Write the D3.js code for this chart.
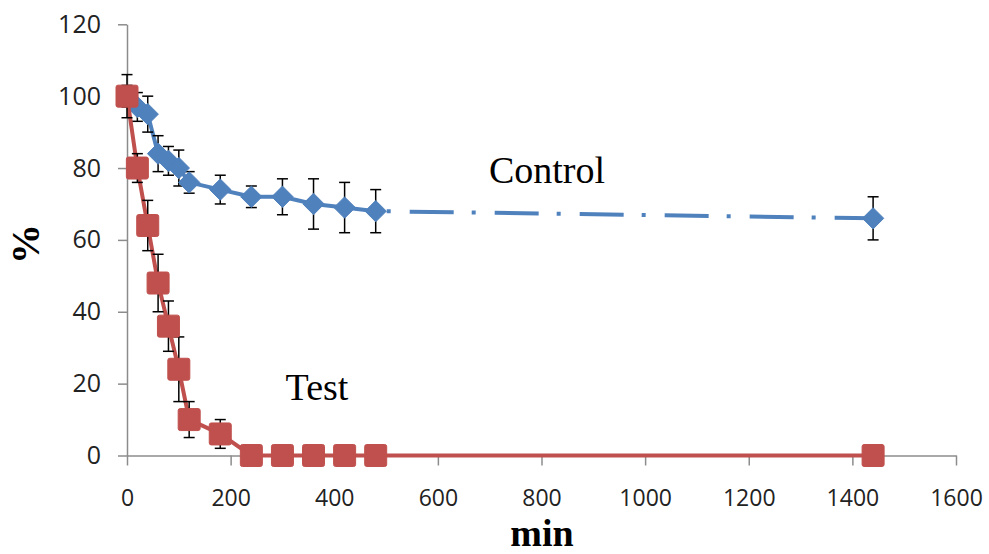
<!DOCTYPE html>
<html>
<head>
<meta charset="utf-8">
<script src="https://cdn.jsdelivr.net/npm/d3@7"></script>
<style>
  html, body { margin: 0; padding: 0; background: #fff; }
  svg { display: block; }
</style>
</head>
<body>
<svg id="chart" width="989" height="554"></svg>
<script>
// Sampling times (min)
const times = [0, 20, 40, 60, 80, 100, 120, 180, 240, 300, 360, 420, 480, 1440];

// Control series: mean % and error (±)
const controlValues = [100, 97, 95, 84, 82, 80, 76, 74, 72, 72, 70, 69, 68, 66];
const controlErrors = [3, 4, 5, 5, 4, 5, 3, 4, 3, 5, 7, 7, 6, 6];

// Test series: mean % and error (±)
const testValues = [100, 80, 64, 48, 36, 24, 10, 6, 0, 0, 0, 0, 0, 0];
const testErrors = [6, 4, 7, 8, 7, 9, 5, 4, 0, 0, 0, 0, 0, 0];

// Axis ticks
const xTicks = [0, 200, 400, 600, 800, 1000, 1200, 1400, 1600];
const yTicks = [0, 20, 40, 60, 80, 100, 120];

const svg = d3.select("#chart");

const x = d3.scaleLinear().domain([0, 1600]).range([127, 956]);
const y = d3.scaleLinear().domain([0, 120]).range([455.5, 24.3]);

const axisColor = "#8c8c8c";
const blue = "#4F81BD";
const red = "#C0504D";

// Axes
const xAxis = svg.append("g")
  .attr("transform", `translate(0,${y(0)})`)
  .call(d3.axisBottom(x).tickValues(xTicks).tickFormat(d3.format("d"))
    .tickSize(10).tickSizeOuter(0));
const yAxis = svg.append("g")
  .attr("transform", `translate(${x(0)},0)`)
  .call(d3.axisLeft(y).tickValues(yTicks).tickFormat(d3.format("d"))
    .tickSize(9).tickSizeOuter(0).tickPadding(17));

[xAxis, yAxis].forEach(g => {
  g.select(".domain").attr("stroke", axisColor).attr("stroke-width", 1.5);
  g.selectAll(".tick line").attr("stroke", axisColor).attr("stroke-width", 1.5);
  g.selectAll(".tick text")
    .attr("fill", "#222")
    .attr("font-family", "'Open Sans', sans-serif");
});
yAxis.selectAll(".tick text").attr("font-size", 25);
xAxis.selectAll(".tick text")
  .attr("font-size", 23)
  .attr("dy", "0.35em")
  .attr("y", 42);

// Axis titles
svg.append("text")
  .attr("x", 542).attr("y", 546)
  .attr("text-anchor", "middle")
  .attr("font-family", "'Liberation Serif', 'Times New Roman', serif")
  .attr("font-weight", "bold")
  .attr("font-size", 38)
  .attr("fill", "#000")
  .text("min");

svg.append("text")
  .attr("transform", "translate(39,244) rotate(-90)")
  .attr("text-anchor", "middle")
  .attr("font-family", "'Liberation Serif', 'Times New Roman', serif")
  .attr("font-weight", "bold")
  .attr("font-size", 40)
  .attr("fill", "#000")
  .text("%");

// Series labels
svg.append("text")
  .attr("x", 547).attr("y", 183)
  .attr("text-anchor", "middle")
  .attr("font-family", "'Liberation Serif', 'Times New Roman', serif")
  .attr("font-size", 38)
  .attr("fill", "#000")
  .text("Control");

svg.append("text")
  .attr("x", 317).attr("y", 400)
  .attr("text-anchor", "middle")
  .attr("font-family", "'Liberation Serif', 'Times New Roman', serif")
  .attr("font-size", 38)
  .attr("fill", "#000")
  .text("Test");

const control = times.map((t, i) => ({ t, v: controlValues[i], e: controlErrors[i] }));
const test = times.map((t, i) => ({ t, v: testValues[i], e: testErrors[i] }));

// Control line: dash-dot drawn per segment; long segments start on a gap
const dashPattern = "44,18,4,19";
const segs = d3.pairs(control);
svg.append("g").selectAll("line")
  .data(segs)
  .join("line")
  .attr("x1", d => x(d[0].t)).attr("y1", d => y(d[0].v))
  .attr("x2", d => x(d[1].t)).attr("y2", d => y(d[1].v))
  .attr("stroke", blue)
  .attr("stroke-width", 4)
  .attr("stroke-dasharray", dashPattern)
  .attr("stroke-dashoffset", d => {
    const len = Math.hypot(x(d[1].t) - x(d[0].t), y(d[1].v) - y(d[0].v));
    return len > 60 ? 51 : 0;
  });

function errorBars(data) {
  const g = svg.append("g").attr("stroke", "#000").attr("stroke-width", 1.5);
  const withErr = data.filter(d => d.e > 0);
  g.selectAll("line.v").data(withErr).join("line").attr("class", "v")
    .attr("x1", d => x(d.t)).attr("x2", d => x(d.t))
    .attr("y1", d => y(d.v + d.e)).attr("y2", d => y(d.v - d.e));
  g.selectAll("line.top").data(withErr).join("line").attr("class", "top")
    .attr("x1", d => x(d.t) - 5.5).attr("x2", d => x(d.t) + 5.5)
    .attr("y1", d => y(d.v + d.e)).attr("y2", d => y(d.v + d.e));
  g.selectAll("line.bot").data(withErr).join("line").attr("class", "bot")
    .attr("x1", d => x(d.t) - 5.5).attr("x2", d => x(d.t) + 5.5)
    .attr("y1", d => y(d.v - d.e)).attr("y2", d => y(d.v - d.e));
}

errorBars(control);

// Control markers (diamonds)
const diamond = d3.symbol().type(d3.symbolDiamond2).size(290);
svg.append("g").selectAll("path")
  .data(control)
  .join("path")
  .attr("d", diamond)
  .attr("transform", d => `translate(${x(d.t)},${y(d.v)})`)
  .attr("fill", blue)
  .attr("stroke", blue)
  .attr("stroke-width", 1)
  .attr("stroke-linejoin", "round");

// Test line (solid)
svg.append("path")
  .datum(test)
  .attr("d", d3.line().x(d => x(d.t)).y(d => y(d.v)))
  .attr("fill", "none")
  .attr("stroke", red)
  .attr("stroke-width", 4)
  .attr("stroke-linejoin", "round");

errorBars(test);

// Test markers (squares)
const sq = 22;
svg.append("g").selectAll("rect")
  .data(test)
  .join("rect")
  .attr("x", d => x(d.t) - sq / 2)
  .attr("y", d => y(d.v) - sq / 2)
  .attr("width", sq).attr("height", sq)
  .attr("rx", 2)
  .attr("fill", red)
  .attr("stroke", red)
  .attr("stroke-width", 1);
</script>
</body>
</html>
